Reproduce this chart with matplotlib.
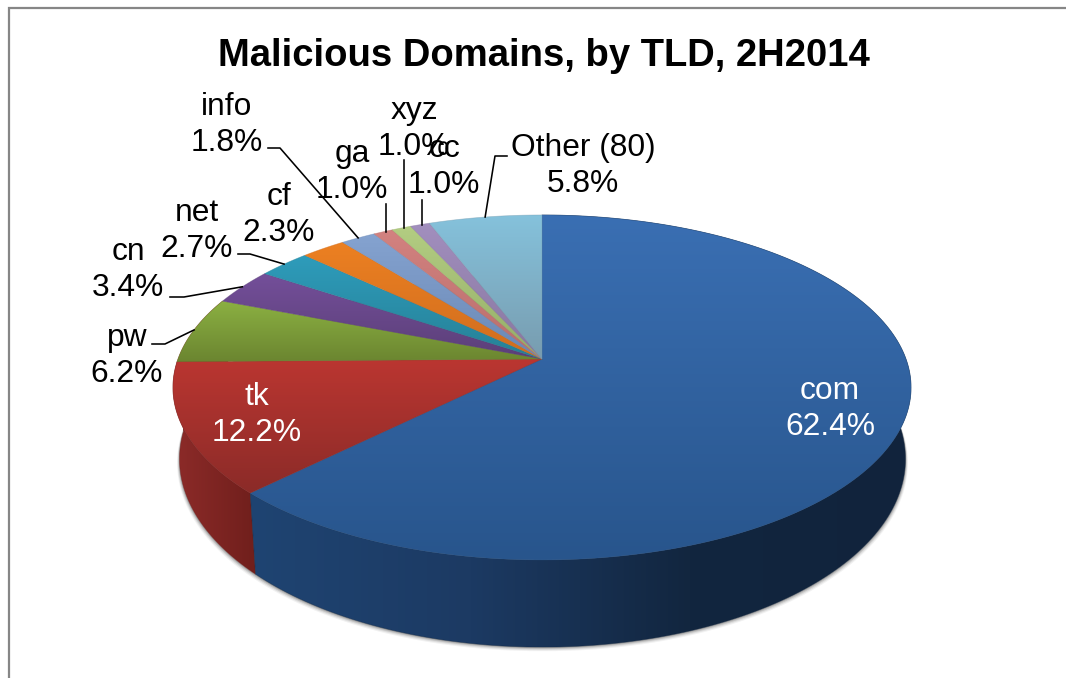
#!/usr/bin/env python3
import numpy as np
import matplotlib
matplotlib.use("Agg")
import matplotlib.pyplot as plt
from matplotlib.colors import LinearSegmentedColormap
from matplotlib.patches import Polygon

plt.rcParams["font.family"] = ["Liberation Sans", "DejaVu Sans"]

# === data ===
tlds = ["com", "tk", "pw", "cn", "net", "cf", "info", "ga", "xyz", "cc", "Other (80)"]
shares = [62.4, 12.2, 6.2, 3.4, 2.7, 2.3, 1.8, 1.0, 1.0, 1.0, 5.8]

# === colours: top of slice -> bottom of slice ===
top_colors = [
    ("#3A6FB3", "#28558C"), ("#BB3631", "#8B2B28"), ("#8BB042", "#6B8530"),
    ("#744F9A", "#5B3F78"), ("#2E9CBB", "#268096"), ("#EC8022", "#D06D1E"),
    ("#85A3D0", "#6A88B5"), ("#D38280", "#B86E6C"), ("#B3CD82", "#95AE68"),
    ("#A28FBE", "#8877A0"), ("#85C2DC", "#789CAF"),
]
# side wall: left -> right (pw only shows as a sliver next to tk)
wall_colors = {
    0: ["#1F4472", "#1C3A63", "#12263F", "#11233C"],
    1: ["#8D2B29", "#701F1C"],
    2: ["#8D2B29", "#8D2B29"],
}

# === label layout (pixels) ===
label_pos = [(830, 408), (257, 414), (127, 355), (128, 269), (197, 230), (279, 214),
             (227, 124), (352, 171), (414, 128), (444, 166), (583, 165)]
label_color = ["white", "white"] + ["black"] * 9
# elbows of the leader lines, None = no leader
leader_pts = [None, None,
              [(152, 344), (165, 344)], [(170, 297), (184, 297)], [(238, 254), (250, 254)], None,
              [(268, 148), (280, 148)], [(386, 204)], [(404, 160)], [(422, 200)],
              [(507, 156), (495, 156)]]

# === pie geometry ===
KP = 0.165  # perspective
top_plane = dict(cx=542.0, cy=359.0, r=364.0, a=167.8)
bot_plane = dict(cx=542.5, cy=428.0, r=358.0, a=183.0)


def project(theta, plane):
    # theta: clockwise from 12 o'clock
    u = np.sin(theta)
    v = -np.cos(theta)
    w = 1 - KP * v
    return plane["cx"] + plane["r"] * u / w, plane["cy"] + plane["a"] * v / w


def gradient(ax, poly_xy, colors, vertical, zorder):
    poly = Polygon(poly_xy, closed=True, transform=ax.transData, facecolor="none", edgecolor="none")
    ax.add_patch(poly)
    x0, y0 = poly_xy.min(axis=0)
    x1, y1 = poly_xy.max(axis=0)
    cmap = LinearSegmentedColormap.from_list("g", colors)
    ramp = np.linspace(0, 1, 256)
    arr = ramp[:, None] if vertical else ramp[None, :]
    im = ax.imshow(arr, cmap=cmap, extent=(x0, x1, y1, y0), aspect="auto",
                   interpolation="bilinear", zorder=zorder, vmin=0, vmax=1)
    im.set_clip_path(poly)
    # soften the hard clip edge
    ax.add_patch(Polygon(poly_xy, closed=True, facecolor="none", alpha=0.5,
                         edgecolor=colors[len(colors) // 2], linewidth=0.5, zorder=zorder))


fig = plt.figure(figsize=(10.66, 6.78), dpi=100)
ax = fig.add_axes([0, 0, 1, 1])

# chart frame
ax.plot([8.5, 8.5, 1066], [678, 7.5, 7.5], color="#868686", linewidth=1.6, solid_joinstyle="miter", zorder=1)

edges = 2 * np.pi * np.cumsum([0] + shares) / sum(shares)

# soft shadow under the wall
full = np.linspace(0, 2 * np.pi, 400)
sx, sy = project(full, bot_plane)
for off, alpha in [(4, 0.08), (3, 0.12), (2, 0.2), (1, 0.3)]:
    ax.fill(sx + np.sign(sx - 542) * off * 0.6, sy + off, color="#555555", alpha=alpha, linewidth=0, zorder=2)

# side walls
for i in sorted(wall_colors):
    th = np.linspace(edges[i], edges[i + 1], 200)
    tx, ty = project(th, top_plane)
    bx, by = project(th[::-1], bot_plane)
    xy = np.column_stack([np.r_[tx, bx], np.r_[ty, by]])
    gradient(ax, xy, wall_colors[i], False, 3 + (2 - i) * 0.1)

# top surface
apex = (top_plane["cx"], top_plane["cy"])
for i in range(len(shares)):
    th = np.linspace(edges[i], edges[i + 1], 200)
    tx, ty = project(th, top_plane)
    xy = np.column_stack([np.r_[apex[0], tx], np.r_[apex[1], ty]])
    gradient(ax, xy, list(top_colors[i]), True, 4 + i * 0.01)

# labels and leaders
for i, name in enumerate(tlds):
    ax.text(label_pos[i][0], label_pos[i][1] + 1, f"{name}\n{shares[i]:.1f}%", color=label_color[i],
            fontsize=22.9, ha="center", va="center", linespacing=1.27, zorder=6 + i * 0.01)
    if leader_pts[i] is not None:
        mid = (edges[i] + edges[i + 1]) / 2
        rim = project(mid, top_plane)
        pts = list(leader_pts[i])
        if len(pts) == 1:
            # short slices at the back: straight down to the rim
            pts.append((pts[0][0], rim[1]))
        else:
            pts.append(rim)
        ax.plot([p[0] for p in pts], [p[1] for p in pts], color="black", linewidth=1.15, zorder=5)

ax.text(544, 56, "Malicious Domains, by TLD, 2H2014", fontsize=27.5, fontweight="bold",
        ha="center", va="center", zorder=6)

ax.set_xlim(0, 1066)
ax.set_ylim(678, 0)
ax.axis("off")
fig.savefig("out.png", dpi=100, facecolor="white")
